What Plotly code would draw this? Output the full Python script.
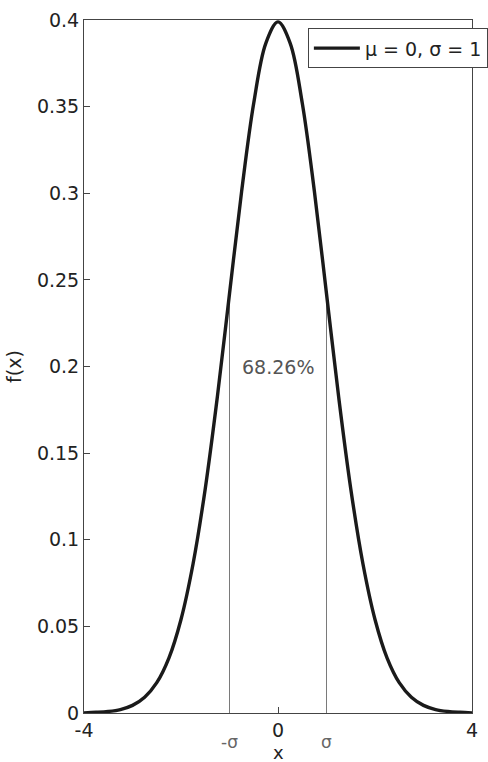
import plotly.graph_objects as go

# Standard normal density (mu = 0, sigma = 1)
x_vals = [-4.0, -3.75, -3.5, -3.25, -3.0, -2.75, -2.5, -2.25, -2.0, -1.75, -1.5, -1.25,
          -1.0, -0.75, -0.5, -0.25, 0.0, 0.25, 0.5, 0.75, 1.0, 1.25, 1.5, 1.75, 2.0,
          2.25, 2.5, 2.75, 3.0, 3.25, 3.5, 3.75, 4.0]
f_vals = [0.0001, 0.0004, 0.0009, 0.0020, 0.0044, 0.0091, 0.0175, 0.0317, 0.0540, 0.0863,
          0.1295, 0.1826, 0.2420, 0.3011, 0.3521, 0.3867, 0.3989, 0.3867, 0.3521, 0.3011,
          0.2420, 0.1826, 0.1295, 0.0863, 0.0540, 0.0317, 0.0175, 0.0091, 0.0044, 0.0020,
          0.0009, 0.0004, 0.0001]

sigma_x = [-1, 1]
sigma_top = [0.242, 0.242]
sigma_labels = ["-σ", "σ"]

x_ticks = [-4, 0, 4]
x_ticklabels = ["-4", "0", "4"]
y_ticks = [0, 0.05, 0.1, 0.15, 0.2, 0.25, 0.3, 0.35, 0.4]
y_ticklabels = ["0", "0.05", "0.1", "0.15", "0.2", "0.25", "0.3", "0.35", "0.4"]

area_label = "68.26%"
area_pos = (0, 0.2)
legend_name = "μ = 0, σ = 1"

FONT = "DejaVu Sans"
FS = 19

fig = go.Figure()

for sx, st in zip(sigma_x, sigma_top):
    fig.add_trace(go.Scatter(x=[sx, sx], y=[0, st], mode="lines",
                             line=dict(color="#7a7a7a", width=1),
                             showlegend=False, hoverinfo="skip"))

fig.add_trace(go.Scatter(x=x_vals, y=f_vals, mode="lines", name=legend_name,
                         line=dict(color="#1a1a1a", width=3.4, shape="spline")))

annotations = []
for sx, lab in zip(sigma_x, sigma_labels):
    annotations.append(dict(x=sx, y=0, xref="x", yref="y", text=lab, showarrow=False,
                            yanchor="middle", yshift=-29,
                            font=dict(family=FONT, size=17, color="#666666")))
annotations.append(dict(x=area_pos[0], y=area_pos[1], xref="x", yref="y", text=area_label,
                        showarrow=False, font=dict(family=FONT, size=FS, color="#555555")))
annotations.append(dict(x=0, y=0, xref="x", yref="y", text="x", showarrow=False,
                        yanchor="bottom", yshift=-52,
                        font=dict(family=FONT, size=18, color="#222222")))

fig.update_layout(
    width=488, height=762,
    margin=dict(l=84, r=16, t=20, b=49, autoexpand=False),
    paper_bgcolor="white", plot_bgcolor="white",
    font=dict(family=FONT, size=FS, color="#222222"),
    showlegend=True,
    legend=dict(x=0.577, y=0.988, xanchor="left", yanchor="top",
                itemwidth=46,
                bgcolor="white", bordercolor="#444444", borderwidth=1,
                font=dict(family=FONT, size=FS, color="#222222")),
    annotations=annotations,
    xaxis=dict(range=[-4, 4], tickvals=x_ticks, ticktext=x_ticklabels,
               ticks="inside", ticklen=6, tickcolor="#444444",
               tickfont=dict(family=FONT, size=FS, color="#222222"),
               showline=True, linecolor="#444444", linewidth=1, mirror=True,
               showgrid=False, zeroline=False),
    yaxis=dict(range=[0, 0.4], tickvals=y_ticks, ticktext=y_ticklabels,
               ticks="inside", ticklen=6, tickcolor="#444444",
               tickfont=dict(family=FONT, size=FS, color="#222222"),
               showline=True, linecolor="#444444", linewidth=1, mirror=True,
               showgrid=False, zeroline=False,
               title=dict(text="f(x)", standoff=10, font=dict(family=FONT, size=FS))),
)

fig.write_html("out.html", config={"displayModeBar": False},
               post_script="document.body.style.margin='0';")
